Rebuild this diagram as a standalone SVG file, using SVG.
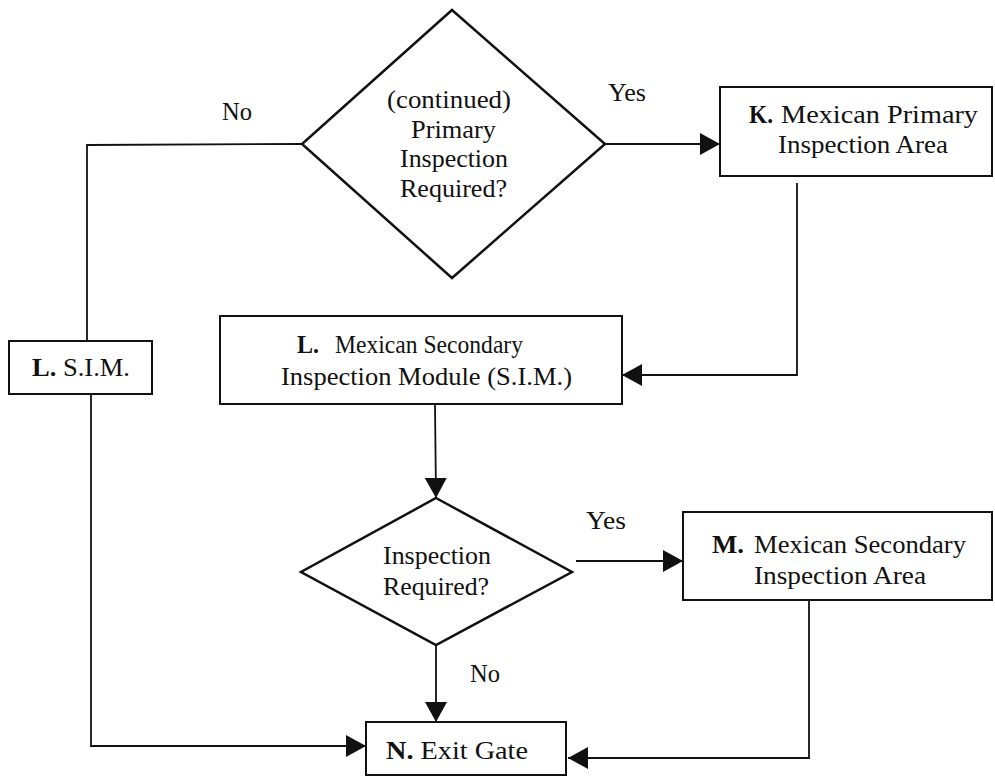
<svg xmlns="http://www.w3.org/2000/svg" width="995" height="777" viewBox="0 0 995 777">
<style>
text{font-family:"Liberation Serif","Times New Roman",serif;font-size:25px;fill:#111}
.b{font-weight:bold}
.box{fill:#fff;stroke:#111;stroke-width:2}
.dia{fill:#fff;stroke:#111;stroke-width:2.5}
.con{fill:none;stroke:#111;stroke-width:1.8}
</style>
<defs>
<marker id="ah" viewBox="0 0 20 22" refX="20" refY="11" markerWidth="20" markerHeight="22" markerUnits="userSpaceOnUse" orient="auto">
<path d="M0,0 L20,11 L0,22 Z" fill="#111"/>
</marker>
</defs>
<g id="connectors">
<polyline class="con" points="302,144 87,145 87,341"/>
<polyline class="con" points="91,394 91,746 366,746" marker-end="url(#ah)"/>
<line class="con" x1="605" y1="144" x2="720" y2="144" marker-end="url(#ah)"/>
<polyline class="con" points="797,183 797,375 622,375" marker-end="url(#ah)"/>
<line class="con" x1="435" y1="404" x2="436" y2="498" marker-end="url(#ah)"/>
<line class="con" x1="576" y1="561" x2="683" y2="561" marker-end="url(#ah)"/>
<line class="con" x1="436" y1="645" x2="436" y2="722" marker-end="url(#ah)"/>
<polyline class="con" points="809,600 809,758 568,758" marker-end="url(#ah)"/>
<text x="222" y="120" textLength="30" lengthAdjust="spacingAndGlyphs">No</text>
<text x="608" y="101" textLength="38" lengthAdjust="spacingAndGlyphs">Yes</text>
<text x="586" y="529" textLength="40" lengthAdjust="spacingAndGlyphs">Yes</text>
<text x="470" y="682" textLength="30" lengthAdjust="spacingAndGlyphs">No</text>
</g>
<g id="decision1">
<polygon class="dia" points="452,10 605,144 452,278 302,144"/>
<text x="387" y="108" textLength="124" lengthAdjust="spacingAndGlyphs">(continued)</text>
<text x="411" y="138" textLength="85" lengthAdjust="spacingAndGlyphs">Primary</text>
<text x="400" y="167" textLength="108" lengthAdjust="spacingAndGlyphs">Inspection</text>
<text x="400" y="197" textLength="107" lengthAdjust="spacingAndGlyphs">Required?</text>
</g>
<g id="K">
<rect class="box" x="720" y="87" width="272" height="89"/>
<text class="b" x="749" y="123" textLength="24" lengthAdjust="spacingAndGlyphs">K.</text>
<text x="781" y="123" textLength="197" lengthAdjust="spacingAndGlyphs">Mexican Primary</text>
<text x="778" y="153" textLength="170" lengthAdjust="spacingAndGlyphs">Inspection Area</text>
</g>
<g id="L">
<rect class="box" x="220" y="316" width="402" height="88"/>
<text class="b" x="297" y="353" textLength="22" lengthAdjust="spacingAndGlyphs">L.</text>
<text x="335" y="353" textLength="188" lengthAdjust="spacingAndGlyphs">Mexican Secondary</text>
<text x="281" y="385" textLength="291" lengthAdjust="spacingAndGlyphs">Inspection Module (S.I.M.)</text>
</g>
<g id="LSIM">
<rect class="box" x="9" y="341" width="143" height="53"/>
<text x="32" y="376" textLength="98" lengthAdjust="spacingAndGlyphs"><tspan class="b">L.</tspan> S.I.M.</text>
</g>
<g id="decision2">
<polygon class="dia" points="436,498 572,572 436,645 301,572"/>
<text x="383" y="564" textLength="108" lengthAdjust="spacingAndGlyphs">Inspection</text>
<text x="383" y="595" textLength="106" lengthAdjust="spacingAndGlyphs">Required?</text>
</g>
<g id="M">
<rect class="box" x="683" y="512" width="309" height="88"/>
<text class="b" x="712" y="553" textLength="32" lengthAdjust="spacingAndGlyphs">M.</text>
<text x="754" y="553" textLength="212" lengthAdjust="spacingAndGlyphs">Mexican Secondary</text>
<text x="754" y="584" textLength="172" lengthAdjust="spacingAndGlyphs">Inspection Area</text>
</g>
<g id="N">
<rect class="box" x="366" y="722" width="200" height="53"/>
<text x="386" y="759" textLength="142" lengthAdjust="spacingAndGlyphs"><tspan class="b">N.</tspan> Exit Gate</text>
</g>
</svg>
